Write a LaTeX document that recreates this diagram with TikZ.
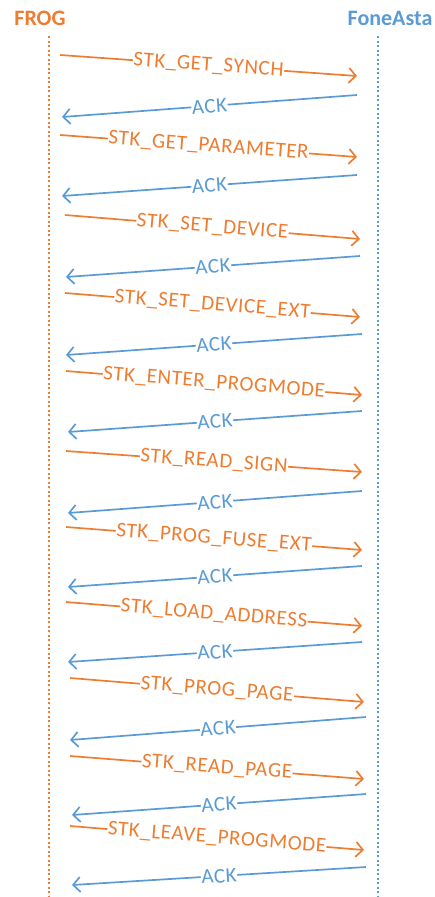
\documentclass[tikz,border=0pt]{standalone}
\usepackage{fontspec}
\setmainfont{Carlito}
\usetikzlibrary{arrows.meta}
\definecolor{orng}{HTML}{ED7D31}
\definecolor{blu}{HTML}{5B9BD5}
\begin{document}
\begin{tikzpicture}[x=1pt,y=-1pt,
 msg/.style={line width=1.7pt, -{Straight Barb[length=7pt,width=15pt,line width=1.7pt]}},
 req/.style={msg, draw=orng},
 ack/.style={msg, draw=blu},
 lbl/.style={midway, sloped, fill=white, inner sep=0.5pt, font=\fontsize{21}{23}\selectfont\addfontfeatures{LetterSpace=3}},
 head/.style={font=\bfseries\fontsize{22}{24}\selectfont},
 life/.style={line width=2pt, dash pattern=on 2pt off 2.5pt}]
\useasboundingbox (0,0) rectangle (435,897);
\node[head, text=orng] (frog) at (40,18) {FROG};
\node[head, text=blu] (fone) at (390,18) {FoneAsta};
\coordinate (frogtop) at (49,36);
\coordinate (frogbot) at (49,897);
\coordinate (fonetop) at (378,36);
\coordinate (fonebot) at (378,897);
\draw[life, orng] (frogtop) -- (frogbot);
\draw[life, blu] (fonetop) -- (fonebot);
\foreach \lab/\ax/\ay/\bx/\by/\cx/\cy/\dx/\dy [count=\i] in {
 STK\_GET\_SYNCH/60/55/357/76/357/95/62/117,
 STK\_GET\_PARAMETER/60/135/357/157/357/175/62/196,
 STK\_SET\_DEVICE/65/215/360/239/360/256/66/277,
 STK\_SET\_DEVICE\_EXT/65/293/360/317/362/334/66/355,
 STK\_ENTER\_PROGMODE/66/371/362/395/362/411/68/432,
 STK\_READ\_SIGN/66/451/362/472/362/491/68/513,
 STK\_PROG\_FUSE\_EXT/66/527/362/550/362/566/68/587,
 STK\_LOAD\_ADDRESS/66/602/362/626/362/642/68/662,
 STK\_PROG\_PAGE/70/678/364/702/366/717/70/740,
 STK\_READ\_PAGE/70/756/364/779/366/794/72/815,
 STK\_LEAVE\_PROGMODE/70/826/364/850/366/867/72/885}{
 \coordinate (rs\i) at (\ax,\ay);
 \coordinate (re\i) at (\bx,\by);
 \coordinate (as\i) at (\cx,\cy);
 \coordinate (ae\i) at (\dx,\dy);
 \draw[req] (rs\i) -- node[lbl, text=orng] (rl\i) {\lab} (re\i);
 \draw[ack] (as\i) -- node[lbl, text=blu] (al\i) {ACK} (ae\i);
}
\end{tikzpicture}
\end{document}
